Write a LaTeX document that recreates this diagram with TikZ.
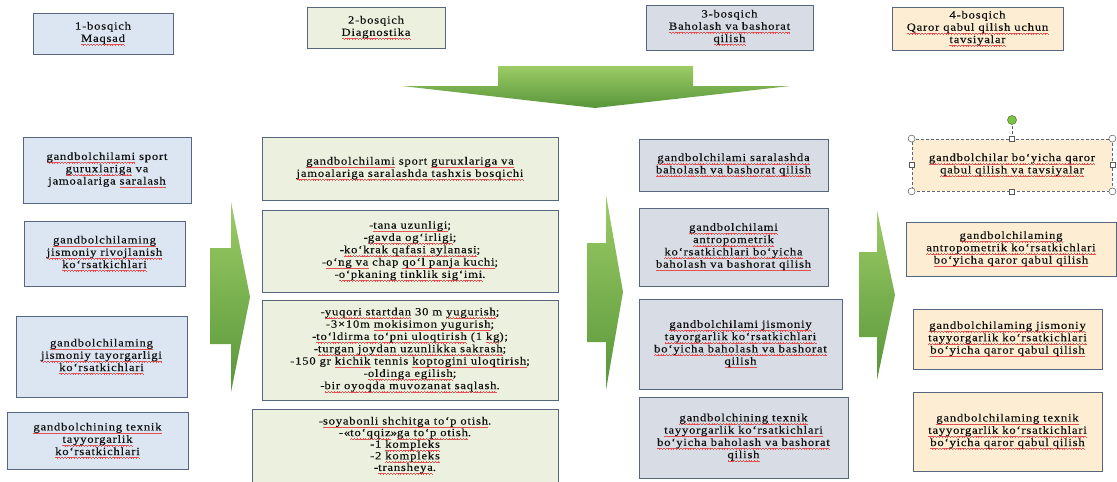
\documentclass[tikz,border=0pt]{standalone}
\usepackage{fontspec}
\setmainfont{Liberation Serif}[FakeStretch=1.15,LetterSpace=7,FakeBold=0.3]
\definecolor{wavered}{HTML}{E65050}
\definecolor{bordc}{HTML}{56667E}
\definecolor{bluef}{HTML}{DCE6F2}
\definecolor{greenf}{HTML}{EBF1DE}
\definecolor{grayf}{HTML}{D7DCE5}
\definecolor{creamf}{HTML}{FDEDD3}
\definecolor{textc}{HTML}{111111}
\definecolor{arrtop}{HTML}{9CCC66}
\definecolor{arrbot}{HTML}{58963A}
\definecolor{rotg}{HTML}{7DC242}
\newsavebox\wubox
\newcommand\wavepiece{\rule[-2.8pt]{0.7pt}{0.35pt}\rule[-2.45pt]{0.7pt}{0.35pt}\rule[-2.8pt]{0.7pt}{0.35pt}\rule[-3.15pt]{0.7pt}{0.35pt}}
\newcommand\wu[1]{\leavevmode\sbox\wubox{#1}\rlap{\textcolor{wavered}{\hbox to \wd\wubox{\xleaders\hbox{\wavepiece}\hfil}}}\usebox\wubox}
\tikzset{
  bx/.style={draw=bordc, line width=0.8pt, align=center, inner sep=2pt,
    font=\fontsize{11}{12.3}\selectfont, text=textc},
  blu/.style={bx, fill=bluef},
  grn/.style={bx, fill=greenf},
  gry/.style={bx, fill=grayf},
  crm/.style={bx, fill=creamf},
  arr/.style={top color=arrtop, bottom color=arrbot, draw=none},
  cornerh/.style={circle, draw=gray!70!black, fill=white, line width=0.5pt, minimum size=7pt, inner sep=0pt},
  sideh/.style={rectangle, draw=gray!70!black, fill=white, line width=0.5pt, minimum size=5pt, inner sep=0pt},
}
\begin{document}
\begin{tikzpicture}[x=1pt,y=-1pt]
\useasboundingbox (0,0) rectangle (1117,482);
\fill[white] (0,0) rectangle (1117,482);

% headers
\node[blu, minimum width=140pt, minimum height=41pt] (h1) at (103,33.5) {1-bosqich\\\wu{Maqsad}};
\node[grn, minimum width=138pt, minimum height=41pt] (h2) at (376,27.5) {2-bosqich\\\wu{Diagnostika}};
\node[gry, minimum width=167pt, minimum height=45pt] (h3) at (729.5,27.5) {3-bosqich\\\wu{Baholash va bashorat}\\\wu{qilish}};
\node[crm, minimum width=171pt, minimum height=43pt] (h4) at (977.5,28.5) {4-bosqich\\\wu{Qaror qabul qilish uchun}\\\wu{tavsiyalar}};

% big down arrow
\shade[arr] (498,66) -- (693,66) -- (693,86) -- (790,86) -- (595,108) -- (402,86) -- (498,86) -- cycle;

% column 1
\node[blu, minimum width=168pt, minimum height=66pt] (l1) at (107,170) {\wu{gandbolchilami} sport\\\wu{guruxlariga} va\\jamoalariga \wu{saralash}};
\node[blu, minimum width=161pt, minimum height=65pt] (l2) at (104.5,253.5) {\wu{gandbolchilaming}\\\wu{jismoniy rivojlanish}\\\wu{ko‘rsatkichlari}};
\node[blu, minimum width=171pt, minimum height=81pt] (l3) at (101.5,356.5) {\wu{gandbolchilaming}\\\wu{jismoniy tayorgarligi}\\\wu{ko‘rsatkichlari}};
\node[blu, minimum width=181pt, minimum height=57pt] (l4) at (97.5,440.5) {\wu{gandbolchining texnik}\\\wu{tayyorgarlik}\\\wu{ko‘rsatkichlari}};

% arrow 1
\shade[arr] (210,248) -- (231,248) -- (231,202) -- (250,297) -- (231,392) -- (231,344) -- (210,344) -- cycle;

% column 2
\node[grn, minimum width=296pt, minimum height=63pt] (m1) at (410,168.5) {\wu{gandbolchilami} sport \wu{guruxlariga va}\\\wu{jamoalariga saralashda tashxis bosqichi}};
\node[grn, minimum width=296pt, minimum height=82pt] (m2) at (410,251) {-\wu{tana uzunligi};\\-\wu{gavda og‘irligi};\\-\wu{ko‘krak qafasi aylanasi};\\-\wu{o‘ng va} chap \wu{qo‘l panja kuchi};\\-\wu{o‘pkaning tinklik sig‘imi}.};
\node[grn, minimum width=296pt, minimum height=100pt] (m3) at (410,350) {-\wu{yuqori startdan} 30 m \wu{yugurish};\\-3×10m \wu{mokisimon yugurish};\\-\wu{to‘ldirma to‘pni uloqtirish} (1 \wu{kg});\\-\wu{turgan joydan uzunlikka sakrash};\\-150 gr \wu{kichik} tennis \wu{koptogini uloqtirish};\\-\wu{oldinga egilish};\\-\wu{bir oyoqda muvozanat saqlash}.};
\node[grn, minimum width=306pt, minimum height=73pt, font=\fontsize{11}{11.6}\selectfont] (m4) at (405,445.5) {-\wu{soyabonli shchitga to‘p otish}.\\-«\wu{to‘qqiz}»\wu{ga to‘p otish}.\\-1 \wu{kompleks}\\-2 \wu{kompleks}\\-\wu{transheya}.};

% arrow 2
\shade[arr] (587,243) -- (606,243) -- (606,195) -- (623,292) -- (606,390) -- (606,342) -- (587,342) -- cycle;

% column 3
\node[gry, minimum width=189pt, minimum height=52pt] (r1) at (733.5,165) {\wu{gandbolchilami saralashda}\\\wu{baholash va bashorat qilish}};
\node[gry, minimum width=189pt, minimum height=78pt] (r2) at (733.5,247) {\wu{gandbolchilami}\\\wu{antropometrik}\\\wu{ko‘rsatkichlari bo‘yicha}\\\wu{baholash va bashorat qilish}};
\node[gry, minimum width=203pt, minimum height=90pt] (r3) at (740.5,344) {\wu{gandbolchilami jismoniy}\\\wu{tayorgarlik ko‘rsatkichlari}\\\wu{bo‘yicha baholash va bashorat}\\\wu{qilish}};
\node[gry, minimum width=209pt, minimum height=81pt] (r4) at (743.5,437.5) {\wu{gandbolchining texnik}\\\wu{tayyorgarlik ko‘rsatkichlari}\\\wu{bo‘yicha baholash va bashorat}\\\wu{qilish}};

% arrow 3
\shade[arr] (859,252) -- (877,252) -- (877,210) -- (895,295) -- (877,380) -- (877,337) -- (859,337) -- cycle;

% column 4
\node[crm, dash pattern=on 3pt off 2pt, minimum width=200pt, minimum height=52pt] (q1) at (1012,165) {\wu{gandbolchilar bo‘yicha qaror}\\\wu{qabul qilish va tavsiyalar}};
\node[crm, minimum width=210pt, minimum height=54pt] (q2) at (1011,249) {\wu{gandbolchilaming}\\\wu{antropometrik ko‘rsatkichlari}\\\wu{bo‘yicha qaror qabul qilish}};
\node[crm, minimum width=189pt, minimum height=60pt] (q3) at (1007.5,339) {\wu{gandbolchilaming jismoniy}\\\wu{tayyorgarlik ko‘rsatkichlari}\\\wu{bo‘yicha qaror qabul qilish}};
\node[crm, minimum width=189pt, minimum height=79pt] (q4) at (1007.5,431.5) {\wu{gandbolchilaming texnik}\\\wu{tayyorgarlik ko‘rsatkichlari}\\\wu{bo‘yicha qaror qabul qilish}};

% selection handles on q1
\node[circle, fill=rotg, draw=rotg!60!black, line width=0.5pt, minimum size=9pt, inner sep=0pt] (rot) at (1012,120) {};
\draw[gray!70!black, densely dashed, line width=0.5pt] (q1.north) -- (rot.south);
\node[cornerh] (hnw) at (q1.north west) {};
\node[cornerh] (hne) at (q1.north east) {};
\node[cornerh] (hsw) at (q1.south west) {};
\node[cornerh] (hse) at (q1.south east) {};
\node[sideh] (hn) at (q1.north) {};
\node[sideh] (hs) at (q1.south) {};
\node[sideh] (hw) at (q1.west) {};
\node[sideh] (he) at (q1.east) {};
\end{tikzpicture}
\end{document}
